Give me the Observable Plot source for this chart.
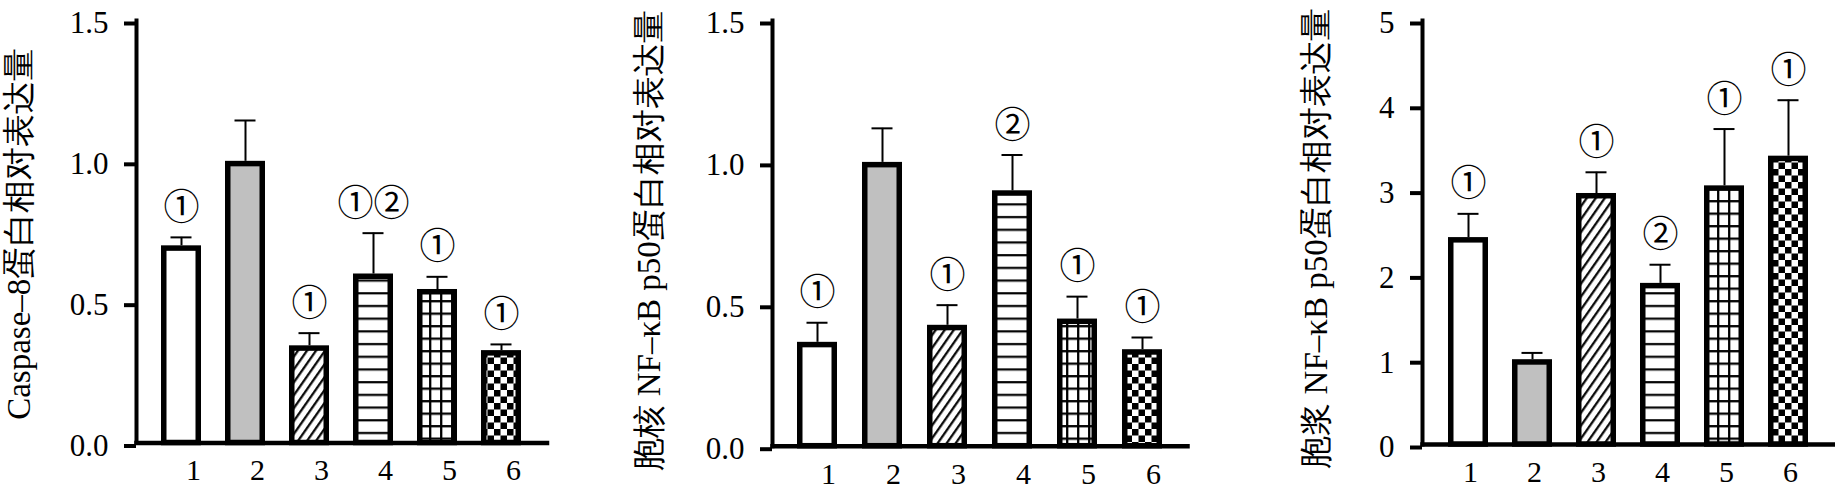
<!DOCTYPE html>
<html>
<head>
<meta charset="utf-8">
<script src="https://cdn.jsdelivr.net/npm/d3@7"></script>
<script src="https://cdn.jsdelivr.net/npm/@observablehq/plot@0.6"></script>
<style>
  body { margin: 0; background: #fff; }
  #wrap { position: relative; width: 1835px; height: 490px; overflow: hidden; background: #fff; }
  .panel { position: absolute; top: 0; }
</style>
</head>
<body>
<svg width="0" height="0" style="position:absolute">
  <defs>
    <pattern id="pat-diag" patternUnits="userSpaceOnUse" width="7.4" height="10" patternTransform="rotate(35)">
      <rect width="7.4" height="10" fill="#fff"/>
      <line x1="1.2" y1="0" x2="1.2" y2="10" stroke="#000" stroke-width="2.2"/>
    </pattern>
    <pattern id="pat-hline" patternUnits="userSpaceOnUse" width="10" height="12.7">
      <rect width="10" height="12.7" fill="#fff"/>
      <line x1="0" y1="1.2" x2="10" y2="1.2" stroke="#000" stroke-width="2.2"/>
    </pattern>
    <pattern id="pat-grid" patternUnits="userSpaceOnUse" width="11" height="12.5">
      <rect width="11" height="12.5" fill="#fff"/>
      <line x1="0" y1="1.2" x2="11" y2="1.2" stroke="#000" stroke-width="2.3"/>
      <line x1="1.2" y1="0" x2="1.2" y2="12.5" stroke="#000" stroke-width="2.3"/>
    </pattern>
    <pattern id="pat-check" patternUnits="userSpaceOnUse" width="13" height="13">
      <rect width="13" height="13" fill="#fff"/>
      <rect x="0" y="0" width="6.5" height="6.5" fill="#000"/>
      <rect x="6.5" y="6.5" width="6.5" height="6.5" fill="#000"/>
    </pattern>
  </defs>
</svg>
<div id="wrap"></div>
<script>
// ---- data ----
const groups = ["1", "2", "3", "4", "5", "6"];

const caspaseMean = [0.70, 1.00, 0.345, 0.60, 0.545, 0.328];
const caspaseErr  = [0.73, 1.145, 0.39, 0.745, 0.59, 0.35];
const caspaseSig  = ["①", "", "①", "①②", "①", "①"];

const nucMean = [0.366, 1.00, 0.426, 0.90, 0.448, 0.340];
const nucErr  = [0.435, 1.12, 0.497, 1.026, 0.527, 0.383];
const nucSig  = ["①", "", "①", "②", "①", "①"];

const cytoMean = [2.44, 1.00, 2.96, 1.90, 3.05, 3.40];
const cytoErr  = [2.72, 1.08, 3.21, 2.12, 3.72, 4.06];
const cytoSig  = ["①", "", "①", "②", "①", "①"];

const ticksA = [0, 0.5, 1.0, 1.5];
const ticksB = [0, 1, 2, 3, 4, 5];

const labelA = "Caspase–8蛋白相对表达量";
const labelB = "胞核 NF–κB p50蛋白相对表达量";
const labelC = "胞浆 NF–κB p50蛋白相对表达量";

// ---- styles ----
const fills = ["#ffffff", "#c0c0c0", "url(#pat-diag)", "url(#pat-hline)", "url(#pat-grid)", "url(#pat-check)"];

function rowsOf(mean, err, sig) {
  return groups.map((g, i) => ({group: g, mean: mean[i], err: err[i], sig: sig[i], fill: fills[i]}));
}

function panel(o) {
  const rows = rowsOf(o.mean, o.err, o.sig);
  return Plot.plot({
    width: o.width,
    height: 490,
    marginTop: 20,
    marginBottom: o.marginBottom,
    marginLeft: o.marginLeft,
    marginRight: o.marginRight,
    style: {fontFamily: "Liberation Serif", background: "transparent", overflow: "visible", color: "#000"},
    x: {domain: groups, paddingInner: 0.38, paddingOuter: 0.372},
    y: {domain: o.yDomain},
    color: {type: "identity"},
    marks: [
      Plot.barY(rows, {x: "group", y: "mean", fill: "fill", stroke: "#000", strokeWidth: 5.5,
        insetTop: 2.75, insetLeft: 2.75, insetRight: 2.75}),
      Plot.ruleX(rows, {x: "group", y1: "mean", y2: "err", stroke: "#000", strokeWidth: 2}),
      Plot.tickY(rows, {x: "group", y: "err", stroke: "#000", strokeWidth: 2, inset: 9.5}),
      Plot.text(rows.filter(d => d.sig), {x: "group", y: "err", text: "sig", dy: -29,
        fontSize: 36, fontFamily: "Noto Sans CJK SC", fill: "#000"}),
      Plot.frame({anchor: "left", stroke: "#000", strokeWidth: 4}),
      Plot.frame({anchor: "bottom", stroke: "#000", strokeWidth: 4.5}),
      Plot.axisY({ticks: o.ticks, tickFormat: o.tickFormat, tickSize: 12, tickPadding: 16,
        strokeWidth: 4, fontSize: 31, dy: 3, label: null, fill: "#000", stroke: "#000"}),
      Plot.axisX({tickSize: 0, tickPadding: 16, fontSize: 30, dx: o.xdx, label: null, fill: "#000"}),
      Plot.text([o.label], {frameAnchor: "left", text: d => d, rotate: -90, textAnchor: "middle",
        lineAnchor: "middle", dx: o.labelDx, dy: o.labelDy, fontSize: 33, fill: "#000"})
    ]
  });
}

const wrap = document.getElementById("wrap");
const specs = [
  {left: 0, width: 560, marginLeft: 136, marginRight: 13.5, marginBottom: 47.5,
   yDomain: [0, 1.5], ticks: ticksA, tickFormat: d3.format(".1f"),
   mean: caspaseMean, err: caspaseErr, sig: caspaseSig, xdx: 12,
   label: labelA, labelDx: -117, labelDy: 2},
  {left: 560, width: 640, marginLeft: 212, marginRight: 13, marginBottom: 44.3,
   yDomain: [0, 1.5], ticks: ticksA, tickFormat: d3.format(".1f"),
   mean: nucMean, err: nucErr, sig: nucSig, xdx: 11,
   label: labelB, labelDx: -123, labelDy: 7},
  {left: 1200, width: 635, marginLeft: 222, marginRight: 2, marginBottom: 46,
   yDomain: [0, 5], ticks: ticksB, tickFormat: d3.format("d"),
   mean: cytoMean, err: cytoErr, sig: cytoSig, xdx: 2,
   label: labelC, labelDx: -106, labelDy: 6}
];
for (const s of specs) {
  const div = document.createElement("div");
  div.className = "panel";
  div.style.left = s.left + "px";
  div.appendChild(panel(s));
  wrap.appendChild(div);
}
</script>
</body>
</html>
